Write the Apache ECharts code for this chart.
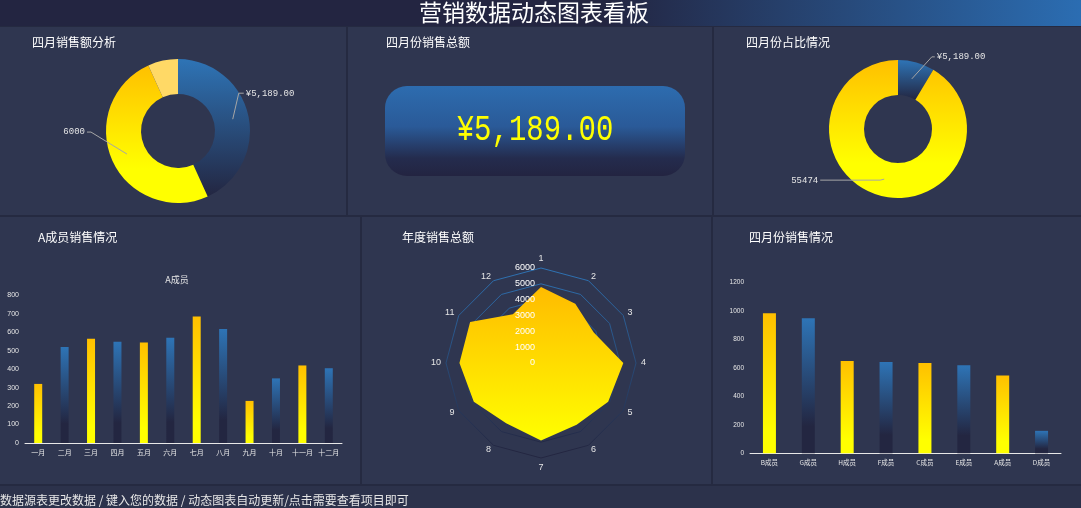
<!DOCTYPE html>
<html>
<head>
<meta charset="utf-8">
<script src="https://cdn.jsdelivr.net/npm/echarts@6/dist/echarts.min.js"></script>
<style>
html,body{margin:0;padding:0;background:#2f3650;}
#c{width:1081px;height:508px;}
</style>
</head>
<body>
<div id="c"></div>
<script>
// ---------- data ----------
const mainTitle = '营销数据动态图表看板';
const footerText = '数据源表更改数据 / 键入您的数据 / 动态图表自动更新/点击需要查看项目即可';
const panelTitles = ['四月销售额分析', '四月份销售总额', '四月份占比情况', 'A成员销售情况', '年度销售总额', '四月份销售情况'];
const aprilTotal = 5189;
const donut1Names = ['四月销售额', '目标', '差额'];
const donut1Values = [5189, 6000, 811];
const donut2Names = ['四月销售额', '其他月份'];
const donut2Values = [5189, 55474];
const months = ['一月', '二月', '三月', '四月', '五月', '六月', '七月', '八月', '九月', '十月', '十一月', '十二月'];
const memberASeriesName = 'A成员';
const memberAValues = [320, 520, 565, 548, 545, 570, 685, 618, 228, 350, 420, 405];
const memberNames = ['B成员', 'G成员', 'H成员', 'F成员', 'C成员', 'E成员', 'A成员', 'D成员'];
const aprilMemberValues = [985, 950, 650, 643, 635, 620, 548, 158];
const radarNames = ['1', '2', '3', '4', '5', '6', '7', '8', '9', '10', '11', '12'];
const radarValues = [4800, 4330, 3850, 5200, 4900, 4500, 4900, 4400, 4900, 5150, 5170, 3550];
const radarMax = 6000;

// ---------- styles ----------
const MONO = '"Liberation Mono", "DejaVu Sans Mono", monospace';
const CJK = '"Noto Sans CJK SC", "Noto Sans", sans-serif';
function vgrad(c0, c1, mid) {
  const stops = [{offset: 0, color: c0}];
  stops.push({offset: mid == null ? 1 : mid, color: c1});
  if (mid != null) stops.push({offset: 1, color: c1});
  return {type: 'linear', x: 0, y: 0, x2: 0, y2: 1, colorStops: stops};
}
const BLUE = vgrad('#2e74b6', '#232641');
const YELLOW = vgrad('#ffc000', '#ffff00', 0.75);
const BLUE_BAR = vgrad('#2e74b6', '#232641', 0.8);
const YELLOW_BAR = vgrad('#ffc000', '#ffff00', 0.85);

function money(v) {
  return '¥' + v.toLocaleString('en-US', {minimumFractionDigits: 2, maximumFractionDigits: 2});
}
function plain(v) { return String(v); }

// label layout helper: move label relative to its line start, draw a bent guide line
function makeLabelLayout(offsets) {
  return function (p) {
    const o = offsets[p.dataIndex];
    if (!o || !p.labelLinePoints) return {};
    const s = p.labelLinePoints[0];
    const lx = s[0] + o[0], ly = s[1] + o[1];
    const side = o[0] >= 0 ? 1 : -1;
    return {
      x: lx, y: ly,
      align: side > 0 ? 'left' : 'right',
      verticalAlign: 'middle',
      labelLinePoints: [[s[0], s[1]], [lx - side * o[2], ly], [lx - side * 2, ly]]
    };
  };
}

const chart = echarts.init(document.getElementById('c'), null, {renderer: 'canvas'});

const donut1Colors = [BLUE, YELLOW, '#ffd966'];
const donut1Labels = [money(donut1Values[0]), String(donut1Values[1]), null];
const donut2Colors = [BLUE, YELLOW];
const donut2Labels = [money(donut2Values[0]), String(donut2Values[1])];

const radarOrder = [0, 11, 10, 9, 8, 7, 6, 5, 4, 3, 2, 1];

const SEP = '#252a41';
const graphics = [
  {type: 'rect', shape: {x: 0, y: 0, width: 1081, height: 26}, z: -10,
   style: {fill: {type: 'linear', x: 0, y: 0, x2: 1, y2: 0,
     colorStops: [{offset: 0, color: '#232541'}, {offset: 0.56, color: '#232541'}, {offset: 1, color: '#2b6db2'}]}}},
  {type: 'text', x: 534, y: 12, z: 5,
   style: {text: mainTitle, fill: '#ffffff', font: '23px ' + CJK, textAlign: 'center', textVerticalAlign: 'middle'}},
  {type: 'rect', shape: {x: 0, y: 26, width: 1081, height: 1}, style: {fill: SEP}},
  {type: 'rect', shape: {x: 346, y: 26, width: 2, height: 190}, style: {fill: SEP}},
  {type: 'rect', shape: {x: 712, y: 26, width: 2, height: 190}, style: {fill: SEP}},
  {type: 'rect', shape: {x: 0, y: 215, width: 1081, height: 2}, style: {fill: SEP}},
  {type: 'rect', shape: {x: 360, y: 216, width: 2, height: 269}, style: {fill: SEP}},
  {type: 'rect', shape: {x: 711, y: 216, width: 2, height: 269}, style: {fill: SEP}},
  {type: 'rect', shape: {x: 0, y: 484, width: 1081, height: 2}, style: {fill: SEP}},
  {type: 'rect', shape: {x: 0, y: 486, width: 1081, height: 22}, style: {fill: '#2c324b'}},
  {type: 'text', x: 0, y: 500, style: {text: footerText, fill: '#e6e6e6', font: '12px ' + CJK, textVerticalAlign: 'middle'}},
  // panel titles
  {type: 'text', x: 32, y: 42, style: {text: panelTitles[0], fill: '#ffffff', font: '12px ' + CJK, textVerticalAlign: 'middle'}},
  {type: 'text', x: 386, y: 42, style: {text: panelTitles[1], fill: '#ffffff', font: '12px ' + CJK, textVerticalAlign: 'middle'}},
  {type: 'text', x: 746, y: 42, style: {text: panelTitles[2], fill: '#ffffff', font: '12px ' + CJK, textVerticalAlign: 'middle'}},
  {type: 'text', x: 38, y: 237, style: {text: panelTitles[3], fill: '#ffffff', font: '12px ' + CJK, textVerticalAlign: 'middle'}},
  {type: 'text', x: 402, y: 237, style: {text: panelTitles[4], fill: '#ffffff', font: '12px ' + CJK, textVerticalAlign: 'middle'}},
  {type: 'text', x: 749, y: 237, style: {text: panelTitles[5], fill: '#ffffff', font: '12px ' + CJK, textVerticalAlign: 'middle'}},
  {type: 'text', x: 177, y: 280, style: {text: memberASeriesName, fill: '#e6e6e6', font: '9px ' + CJK, textAlign: 'center', textVerticalAlign: 'middle'}},
  // KPI card
  {type: 'rect', shape: {x: 385, y: 86, width: 300, height: 90, r: 22},
   style: {fill: {type: 'linear', x: 0, y: 0, x2: 0, y2: 1,
     colorStops: [{offset: 0, color: '#2d6caf'}, {offset: 0.45, color: '#2a5a98'}, {offset: 0.8, color: '#242c4e'}, {offset: 1, color: '#232441'}]}}},
  {type: 'text', x: 535, y: 130, scaleY: 1.3, z: 10,
   style: {text: money(aprilTotal), fill: '#ffff00', font: '29px ' + MONO, textAlign: 'center', textVerticalAlign: 'middle'}}
];

const radarIndicators = radarOrder.map(function (i, k) {
  return {name: radarNames[i], max: radarMax, min: 0, axisLabel: {show: k === 0}};
});

const option = {
  backgroundColor: '#2f3650',
  animation: false,
  graphic: graphics,
  grid: [
    {left: 25, top: 295.3, width: 317, height: 147.7},
    {left: 750, top: 282.7, width: 311, height: 170.6}
  ],
  xAxis: [
    {type: 'category', gridIndex: 0, data: months,
     axisLine: {lineStyle: {color: '#e8e8e8', width: 1}}, axisTick: {show: false},
     axisLabel: {color: '#e6e6e6', fontSize: 7, margin: 6, interval: 0, fontFamily: CJK}},
    {type: 'category', gridIndex: 1, data: memberNames,
     axisLine: {lineStyle: {color: '#e8e8e8', width: 1}}, axisTick: {show: false},
     axisLabel: {color: '#e6e6e6', fontSize: 6.5, margin: 6, interval: 0, fontFamily: CJK}}
  ],
  yAxis: [
    {type: 'value', gridIndex: 0, min: 0, max: 800, interval: 100,
     axisLine: {show: false}, axisTick: {show: false}, splitLine: {show: false},
     axisLabel: {color: '#e6e6e6', fontSize: 7, margin: 6, formatter: plain}},
    {type: 'value', gridIndex: 1, min: 0, max: 1200, interval: 200,
     axisLine: {show: false}, axisTick: {show: false}, splitLine: {show: false},
     axisLabel: {color: '#e6e6e6', fontSize: 6.5, margin: 6, formatter: plain}}
  ],
  radar: [
    {
      center: [541, 363], radius: 95, startAngle: 90, splitNumber: 6, shape: 'polygon', z: 0,
      nameGap: 5,
      axisName: {color: '#e6e6e6', fontSize: 9},
      indicator: radarIndicators.map(function (d) { return {name: d.name, max: d.max, min: d.min}; }),
      axisLine: {show: false}, axisTick: {show: false}, axisLabel: {show: false},
      splitArea: {show: false},
      splitLine: {lineStyle: {width: 1, color: vgrad('#2e74b6', '#232641', 0.95)}}
    },
    {
      center: [541, 363], radius: 95, startAngle: 90, splitNumber: 6, shape: 'polygon', z: 10,
      axisName: {show: false},
      indicator: radarIndicators,
      axisLine: {show: false}, axisTick: {show: false},
      axisLabel: {show: false, color: '#ffffff', fontSize: 9, margin: 6, formatter: plain},
      splitArea: {show: false}, splitLine: {show: false}
    }
  ],
  series: [
    {type: 'pie', center: [178, 131], radius: [37, 72], startAngle: 90, silent: true,
     label: {show: false}, labelLine: {show: false},
     data: donut1Values.map(function (v, i) { return {name: donut1Names[i], value: v, itemStyle: {color: donut1Colors[i]}}; })},
    {type: 'pie', center: [178, 131], radius: [0, 56], startAngle: 90, silent: true, z: 5,
     avoidLabelOverlap: false,
     itemStyle: {color: 'rgba(0,0,0,0)'},
     label: {show: true, color: '#e6e6e6', fontSize: 9, fontFamily: MONO},
     labelLine: {show: true, length: 6, length2: 6, lineStyle: {color: '#a6a6a6', width: 1}},
     labelLayout: makeLabelLayout([[13, -26, 7], [-42, -22, 6], null]),
     data: donut1Values.map(function (v, i) {
       return {name: donut1Names[i], value: v,
         label: donut1Labels[i] ? {formatter: donut1Labels[i]} : {show: false},
         labelLine: {show: !!donut1Labels[i]}};
     })},
    {type: 'pie', center: [898, 129], radius: [34, 69], startAngle: 90, silent: true,
     label: {show: false}, labelLine: {show: false},
     data: donut2Values.map(function (v, i) { return {name: donut2Names[i], value: v, itemStyle: {color: donut2Colors[i]}}; })},
    {type: 'pie', center: [898, 129], radius: [0, 52], startAngle: 90, silent: true, z: 5,
     avoidLabelOverlap: false,
     itemStyle: {color: 'rgba(0,0,0,0)'},
     label: {show: true, color: '#e6e6e6', fontSize: 9, fontFamily: MONO},
     labelLine: {show: true, length: 6, length2: 6, lineStyle: {color: '#a6a6a6', width: 1}},
     labelLayout: makeLabelLayout([[25, -22, 5], [-66, 1, 62]]),
     data: donut2Values.map(function (v, i) {
       return {name: donut2Names[i], value: v, label: {formatter: donut2Labels[i]}};
     })},
    {type: 'bar', xAxisIndex: 0, yAxisIndex: 0, barWidth: 8, silent: true,
     data: memberAValues.map(function (v, i) { return {value: v, itemStyle: {color: i % 2 === 0 ? YELLOW_BAR : BLUE_BAR}}; })},
    {type: 'bar', xAxisIndex: 1, yAxisIndex: 1, barWidth: 13, silent: true,
     data: aprilMemberValues.map(function (v, i) { return {value: v, itemStyle: {color: i % 2 === 0 ? YELLOW_BAR : BLUE_BAR}}; })},
    {type: 'radar', radarIndex: 0, silent: true, symbol: 'none', z: 3,
     lineStyle: {width: 0},
     areaStyle: {opacity: 1, color: vgrad('#ffbb00', '#ffff00')},
     data: [{value: radarOrder.map(function (i) { return radarValues[i]; })}]}
  ]
};
chart.setOption(option);
</script>
</body>
</html>
